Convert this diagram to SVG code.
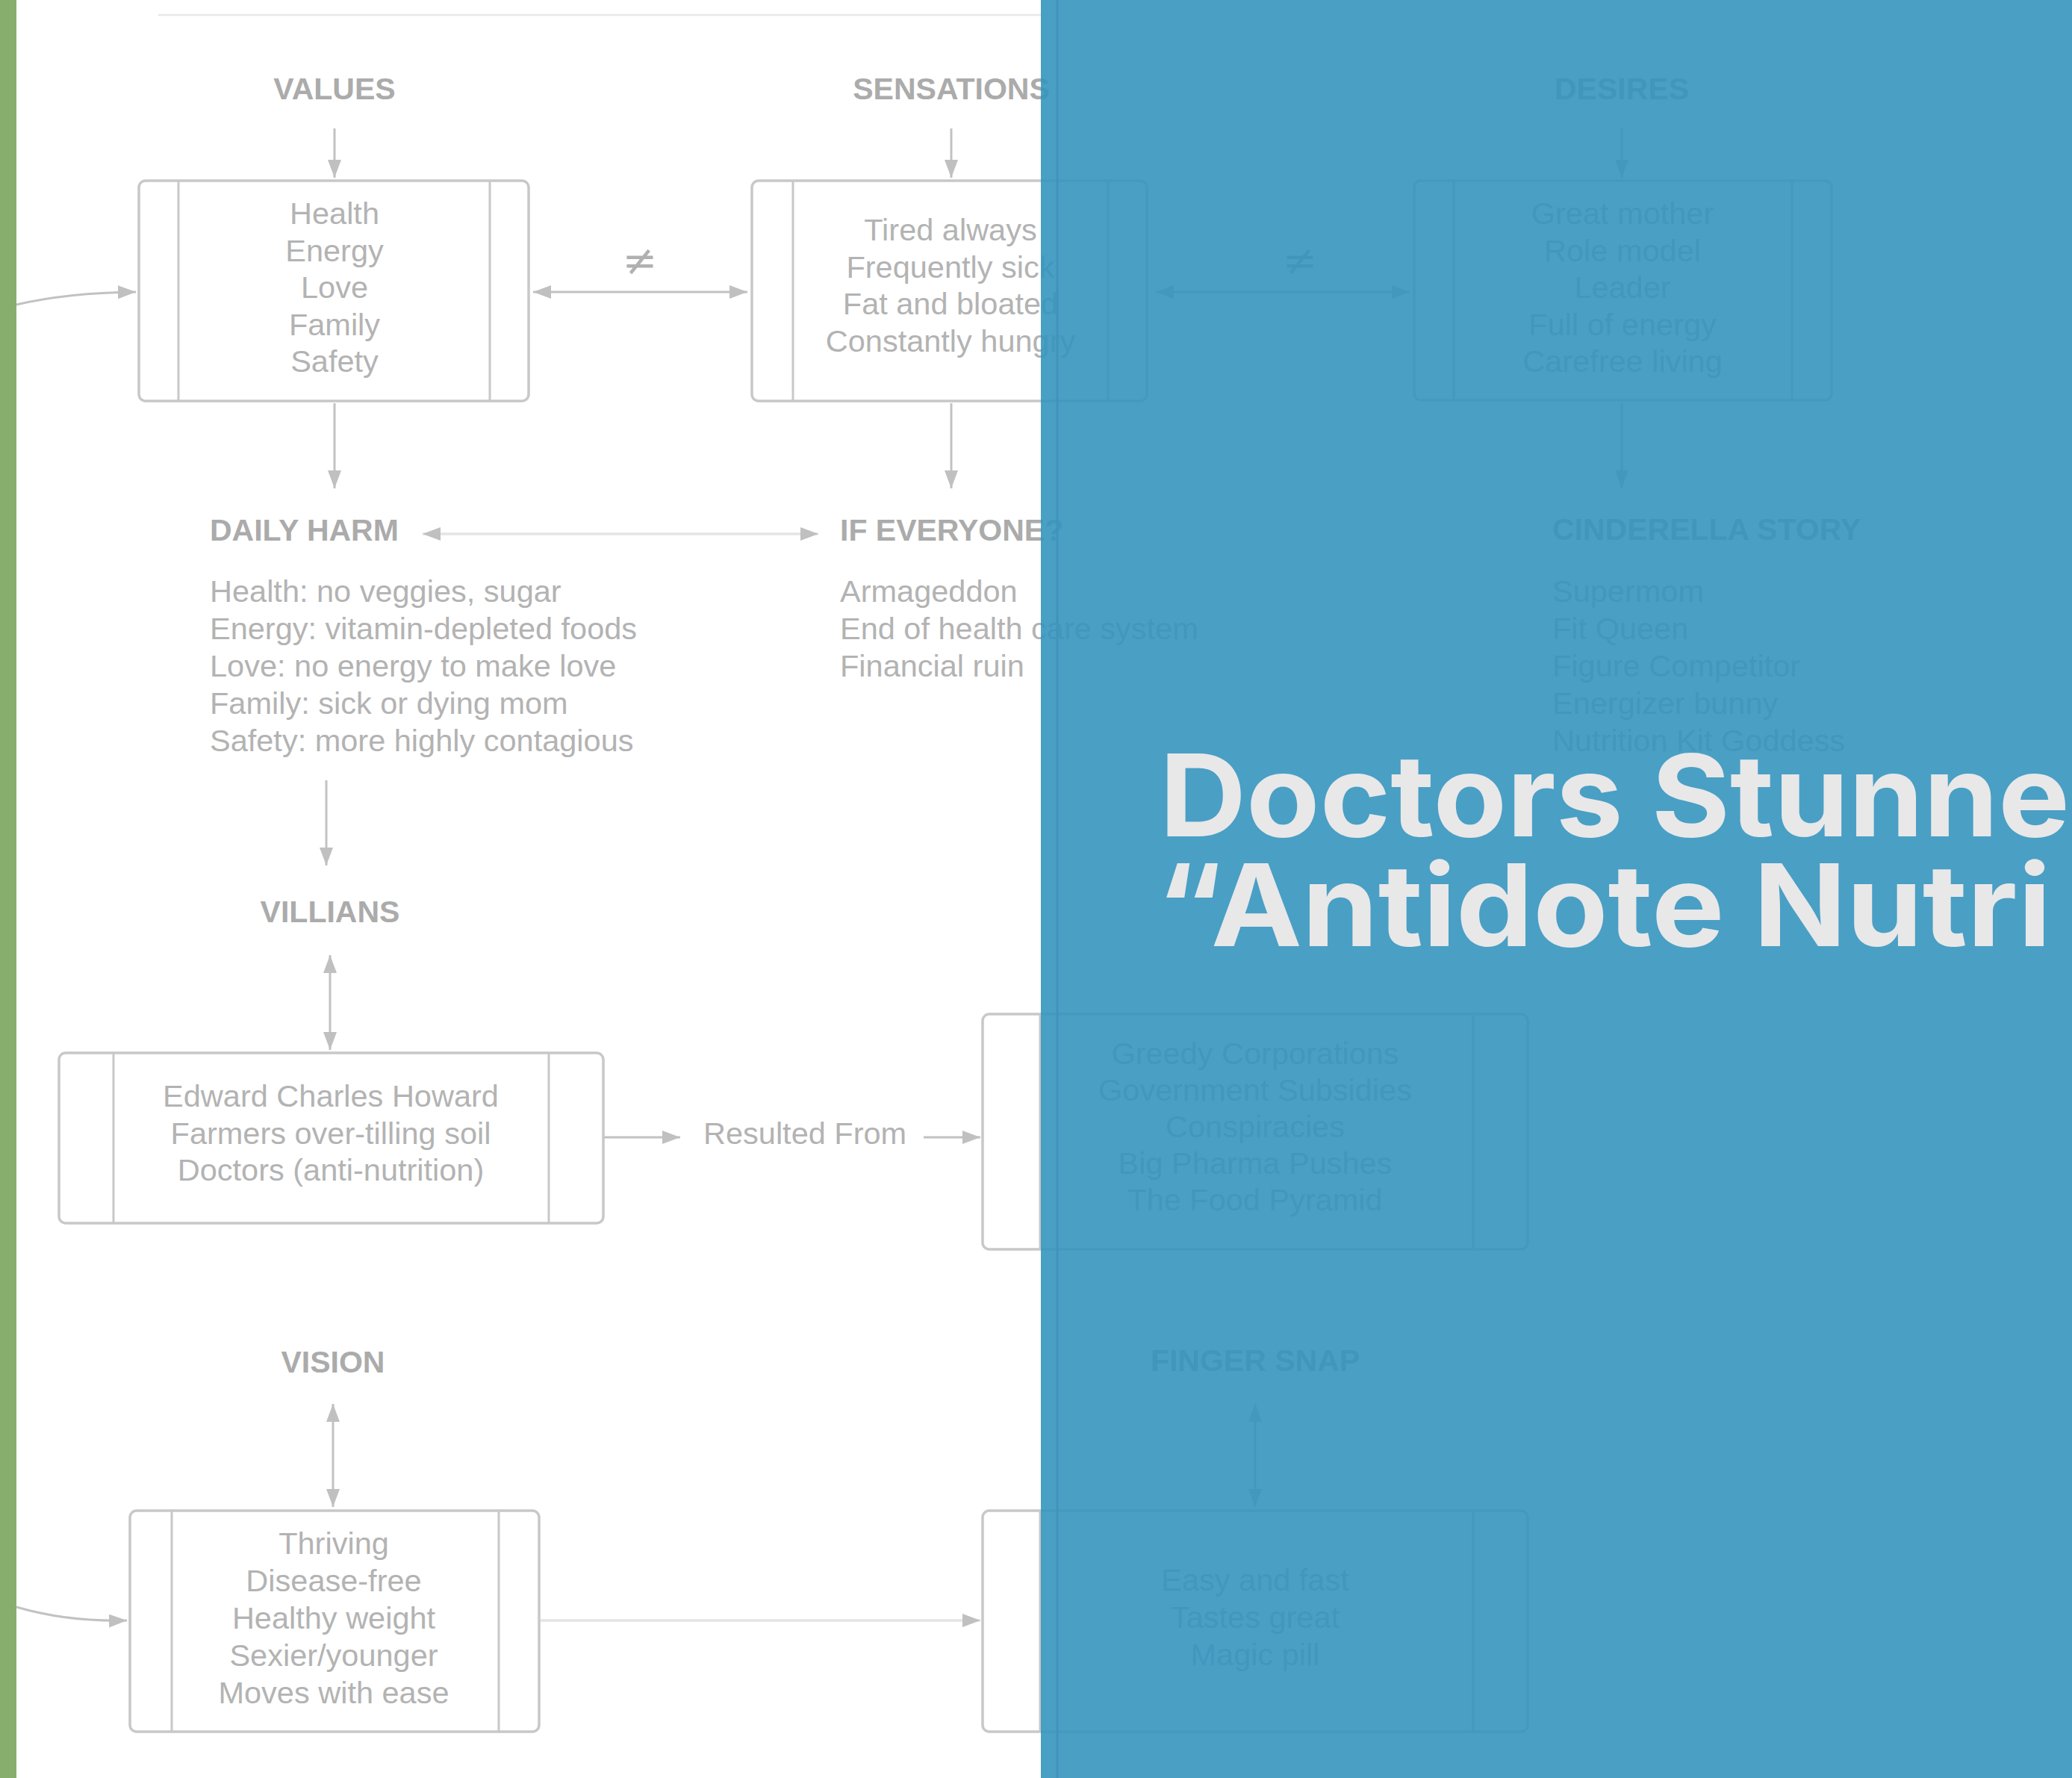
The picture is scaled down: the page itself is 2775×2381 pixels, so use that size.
<svg xmlns="http://www.w3.org/2000/svg" width="2775" height="2381" viewBox="0 0 2775 2381">
<defs>
<style>
.hd{font-family:"Liberation Sans",Arial,sans-serif;font-weight:bold;font-size:41px;fill:#ababab}
.tx{font-family:"Liberation Sans",Arial,sans-serif;font-size:41.5px;fill:#b3b3b3}
.c{text-anchor:middle}
.box{fill:#ffffff;stroke:#c8c8c8;stroke-width:3.5}
.bar{stroke:#c8c8c8;stroke-width:3}
.cn{fill:none;stroke:#c2c2c2;stroke-width:3}
.cl{fill:none;stroke:#e4e4e4;stroke-width:3.5}
.ne{font-family:"DejaVu Sans","Liberation Sans",sans-serif;font-size:56px;fill:#b0b0b0;text-anchor:middle}
.title{font-family:Inter,"Open Sans",sans-serif;font-weight:bold;font-size:152px;fill:#e8e8e8}
</style>
<marker id="ah" viewBox="0 0 24 18" refX="24" refY="9" markerWidth="24" markerHeight="18" markerUnits="userSpaceOnUse" orient="auto-start-reverse">
<path d="M0,0 L24,9 L0,18 z" fill="#c0c0c0"/>
</marker>
</defs>
<rect x="0" y="0" width="2775" height="2381" fill="#ffffff"/>
<rect x="0" y="0" width="22" height="2381" fill="#87ae6c"/>
<line x1="212" y1="20" x2="1400" y2="20" stroke="#e8e8e8" stroke-width="2.5"/>

<g id="connectors">
<line class="cn" x1="448" y1="172" x2="448" y2="238" marker-end="url(#ah)"/>
<line class="cn" x1="1274" y1="172" x2="1274" y2="238" marker-end="url(#ah)"/>
<line class="cn" x1="2172" y1="172" x2="2172" y2="238" marker-end="url(#ah)"/>
<path class="cn" d="M22,408 Q90,392 182,391" marker-end="url(#ah)"/>
<line class="cn" x1="714" y1="391" x2="1001" y2="391" marker-start="url(#ah)" marker-end="url(#ah)"/>
<line class="cn" x1="1548" y1="391" x2="1888" y2="391" marker-start="url(#ah)" marker-end="url(#ah)"/>
<line class="cn" x1="448" y1="540" x2="448" y2="654" marker-end="url(#ah)"/>
<line class="cn" x1="1274" y1="540" x2="1274" y2="654" marker-end="url(#ah)"/>
<line class="cn" x1="2172" y1="540" x2="2172" y2="654" marker-end="url(#ah)"/>
<line class="cl" x1="566" y1="715" x2="1096" y2="715" marker-start="url(#ah)" marker-end="url(#ah)"/>
<line class="cn" x1="437" y1="1045" x2="437" y2="1159" marker-end="url(#ah)"/>
<line class="cn" x1="442" y1="1279" x2="442" y2="1406" marker-start="url(#ah)" marker-end="url(#ah)"/>
<line class="cn" x1="808" y1="1523" x2="911" y2="1523" marker-end="url(#ah)"/>
<line class="cn" x1="1237" y1="1523" x2="1313" y2="1523" marker-end="url(#ah)"/>
<line class="cn" x1="446" y1="1880" x2="446" y2="2018" marker-start="url(#ah)" marker-end="url(#ah)"/>
<line class="cn" x1="1681" y1="1880" x2="1681" y2="2018" marker-start="url(#ah)" marker-end="url(#ah)"/>
<path class="cn" d="M22,2152 Q90,2172 170,2170" marker-end="url(#ah)"/>
<line class="cl" x1="724" y1="2170" x2="1313" y2="2170" marker-end="url(#ah)"/>
</g>

<g id="values-label"><text class="hd c" x="448" y="133">VALUES</text></g>
<g id="sensations-label"><text class="hd c" x="1274" y="133">SENSATIONS</text></g>
<g id="desires-label"><text class="hd c" x="2172" y="133">DESIRES</text></g>

<g id="values-box">
<rect class="box" x="186" y="242" width="522" height="295" rx="9"/>
<line class="bar" x1="239" y1="242" x2="239" y2="537"/>
<line class="bar" x1="656" y1="242" x2="656" y2="537"/>
<text class="tx c" x="448" y="300">Health</text>
<text class="tx c" x="448" y="349.5">Energy</text>
<text class="tx c" x="448" y="399">Love</text>
<text class="tx c" x="448" y="448.5">Family</text>
<text class="tx c" x="448" y="498">Safety</text>
</g>
<g id="neq1"><text class="ne" x="857" y="368">≠</text></g>
<g id="sensations-box">
<rect class="box" x="1007" y="242" width="529" height="295" rx="9"/>
<line class="bar" x1="1062" y1="242" x2="1062" y2="537"/>
<line class="bar" x1="1484" y1="242" x2="1484" y2="537"/>
<text class="tx c" x="1273" y="322">Tired always</text>
<text class="tx c" x="1273" y="371.5">Frequently sick</text>
<text class="tx c" x="1273" y="421">Fat and bloated</text>
<text class="tx c" x="1273" y="470.5">Constantly hungry</text>
</g>
<g id="neq2"><text class="ne" x="1741" y="368">≠</text></g>
<g id="desires-box">
<rect class="box" x="1894" y="242" width="559" height="294" rx="9"/>
<line class="bar" x1="1947" y1="242" x2="1947" y2="536"/>
<line class="bar" x1="2400" y1="242" x2="2400" y2="536"/>
<text class="tx c" x="2173" y="300">Great mother</text>
<text class="tx c" x="2173" y="349.5">Role model</text>
<text class="tx c" x="2173" y="399">Leader</text>
<text class="tx c" x="2173" y="448.5">Full of energy</text>
<text class="tx c" x="2173" y="498">Carefree living</text>
</g>

<g id="daily-harm">
<text class="hd" x="281" y="724">DAILY HARM</text>
<text class="tx" x="281" y="806">Health: no veggies, sugar</text>
<text class="tx" x="281" y="856">Energy: vitamin-depleted foods</text>
<text class="tx" x="281" y="906">Love: no energy to make love</text>
<text class="tx" x="281" y="956">Family: sick or dying mom</text>
<text class="tx" x="281" y="1006">Safety: more highly contagious</text>
</g>
<g id="if-everyone">
<text class="hd" x="1125" y="724">IF EVERYONE?</text>
<text class="tx" x="1125" y="806">Armageddon</text>
<text class="tx" x="1125" y="856">End of health care system</text>
<text class="tx" x="1125" y="906">Financial ruin</text>
</g>
<g id="cinderella">
<text class="hd" x="2079" y="723">CINDERELLA STORY</text>
<text class="tx" x="2079" y="806">Supermom</text>
<text class="tx" x="2079" y="856">Fit Queen</text>
<text class="tx" x="2079" y="906">Figure Competitor</text>
<text class="tx" x="2079" y="956">Energizer bunny</text>
<text class="tx" x="2079" y="1006">Nutrition Kit Goddess</text>
</g>

<g id="villians-label"><text class="hd c" x="442" y="1235">VILLIANS</text></g>
<g id="villians-box">
<rect class="box" x="79" y="1410" width="729" height="228" rx="9"/>
<line class="bar" x1="152" y1="1410" x2="152" y2="1638"/>
<line class="bar" x1="735" y1="1410" x2="735" y2="1638"/>
<text class="tx c" x="443" y="1482">Edward Charles Howard</text>
<text class="tx c" x="443" y="1532">Farmers over-tilling soil</text>
<text class="tx c" x="443" y="1581">Doctors (anti-nutrition)</text>
</g>
<g id="resulted-from"><text class="tx" x="942" y="1532">Resulted From</text></g>
<g id="causes-box">
<rect class="box" x="1316" y="1358" width="730" height="315" rx="9"/>
<line class="bar" x1="1393" y1="1358" x2="1393" y2="1673"/>
<line class="bar" x1="1973" y1="1358" x2="1973" y2="1673"/>
<text class="tx c" x="1681" y="1425">Greedy Corporations</text>
<text class="tx c" x="1681" y="1474">Government Subsidies</text>
<text class="tx c" x="1681" y="1523">Conspiracies</text>
<text class="tx c" x="1681" y="1572">Big Pharma Pushes</text>
<text class="tx c" x="1681" y="1621">The Food Pyramid</text>
</g>

<g id="vision-label"><text class="hd c" x="446" y="1838">VISION</text></g>
<g id="finger-snap-label"><text class="hd c" x="1681" y="1836">FINGER SNAP</text></g>
<g id="vision-box">
<rect class="box" x="174" y="2023" width="548" height="296" rx="9"/>
<line class="bar" x1="230" y1="2023" x2="230" y2="2319"/>
<line class="bar" x1="668" y1="2023" x2="668" y2="2319"/>
<text class="tx c" x="447" y="2081">Thriving</text>
<text class="tx c" x="447" y="2131">Disease-free</text>
<text class="tx c" x="447" y="2181">Healthy weight</text>
<text class="tx c" x="447" y="2231">Sexier/younger</text>
<text class="tx c" x="447" y="2281">Moves with ease</text>
</g>
<g id="finger-snap-box">
<rect class="box" x="1316" y="2023" width="730" height="296" rx="9"/>
<line class="bar" x1="1393" y1="2023" x2="1393" y2="2319"/>
<line class="bar" x1="1973" y1="2023" x2="1973" y2="2319"/>
<text class="tx c" x="1681" y="2130">Easy and fast</text>
<text class="tx c" x="1681" y="2180">Tastes great</text>
<text class="tx c" x="1681" y="2230">Magic pill</text>
</g>

<g id="overlay">
<rect x="1394" y="0" width="1381" height="2381" fill="#3493be" fill-opacity="0.89"/>
<line x1="1416" y1="0" x2="1416" y2="2381" stroke="#4193bb" stroke-width="3"/>
</g>
<g id="title">
<text class="title" x="1553" y="1120" textLength="1219" lengthAdjust="spacingAndGlyphs">Doctors Stunne</text>
<text class="title" x="1549" y="1267" textLength="1198" lengthAdjust="spacingAndGlyphs">“Antidote Nutri</text>
</g>
</svg>
